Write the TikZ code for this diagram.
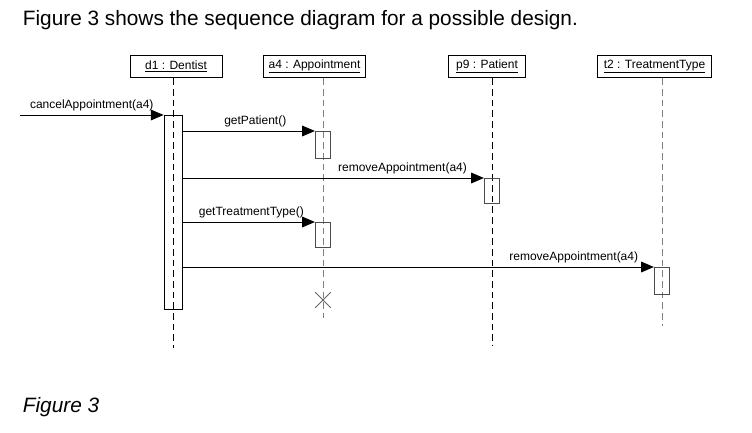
\documentclass[tikz,border=0pt]{standalone}
\usepackage{fontspec}
\setmainfont{Liberation Sans}
\usetikzlibrary{arrows.meta,shapes.misc}

\begin{document}
\begin{tikzpicture}[x=0.75pt, y=-0.75pt, line width=0.7pt,
    every node/.style={font=\fontsize{9}{10}\selectfont},
    head/.style={draw, minimum height=17pt, inner sep=0pt},
    lifeline/.style={dash pattern=on 5pt off 3pt, line width=0.6pt},
    act/.style={draw, anchor=north, minimum width=11.5pt, inner sep=0pt},
    msg/.style={-{Triangle[length=9.5pt,width=8pt]}},
    lbl/.style={above=1.5pt, inner sep=1pt}]
  \useasboundingbox (0,0) rectangle (752,432);

  % Title and caption
  \node[anchor=base west, font=\fontsize{15.6}{18}\selectfont] (title) at (18,25)
    {Figure 3 shows the sequence diagram for a possible design.};
  \node[anchor=base west, font=\fontsize{15.6}{18}\selectfont\itshape] (caption) at (18,412) {Figure 3};

  % Object boxes
  \node[head, minimum width=69pt] (d1) at (176,66.5) {\underline{d1 : Dentist}};
  \node[head, minimum width=77pt] (a4) at (314.5,66.5) {\underline{a4 : Appointment}};
  \node[head, minimum width=58pt] (p9) at (487,66.5) {\underline{p9 : Patient}};
  \node[head, minimum width=85pt] (t2) at (654.5,66.5) {\underline{t2 : TreatmentType}};

  % Lifelines
  \coordinate (d1end) at (173,348);
  \coordinate (a4end) at (323,318);
  \coordinate (p9end) at (492,345);
  \coordinate (t2end) at (662,326);
  \draw[lifeline] (d1.south -| d1end) -- (d1end);
  \draw[lifeline, gray] (a4.south -| a4end) -- (a4end);
  \draw[lifeline] (p9.south -| p9end) -- (p9end);
  \draw[lifeline, gray] (t2.south -| t2end) -- (t2end);

  % Destruction of a4
  \node[draw, gray!80!black, cross out, minimum size=11pt, inner sep=0pt] (a4x) at (323,300) {};

  % Activations
  \node[act, minimum width=13.5pt, minimum height=145.5pt] (act0) at (173,115) {};
  \node[act, draw=black!70, minimum height=20pt] (act1) at (323,131) {};
  \node[act, draw=black!70, minimum height=19pt] (act2) at (492,178) {};
  \node[act, draw=black!70, minimum height=19pt] (act3) at (323,222) {};
  \node[act, draw=black!70, minimum height=20pt] (act4) at (662,267) {};

  % Messages
  \coordinate (caller) at (20,115);
  \draw[msg, line width=0.5pt] (caller) -- node[lbl] {cancelAppointment(a4)} (act0.north west);
  \draw[msg] (act0.east |- act1.north west) -- node[lbl, pos=0.55] {getPatient()} (act1.north west);
  \draw[msg] (act0.east |- act2.north west) -- node[lbl, pos=0.73] {removeAppointment(a4)} (act2.north west);
  \draw[msg] (act0.east |- act3.north west) -- node[lbl, pos=0.52] {getTreatmentType()} (act3.north west);
  \draw[msg] (act0.east |- act4.north west) -- node[lbl, pos=0.83] {removeAppointment(a4)} (act4.north west);
\end{tikzpicture}
\end{document}
